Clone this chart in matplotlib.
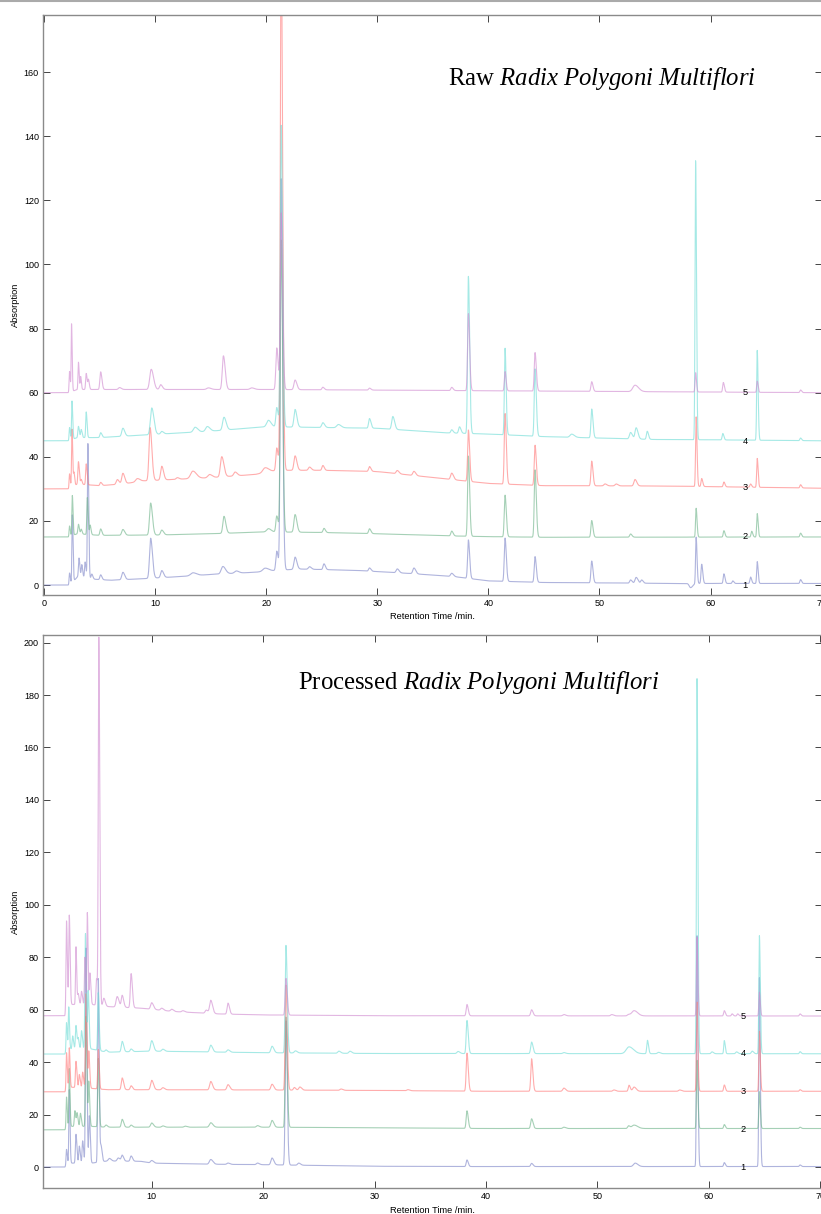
import numpy as np
import matplotlib
matplotlib.use("Agg")
import matplotlib.pyplot as plt
from matplotlib.lines import Line2D

plt.rcParams['font.family'] = ['Liberation Sans', 'DejaVu Sans']
plt.rcParams['mathtext.fontset'] = 'custom'
plt.rcParams['mathtext.rm'] = 'Liberation Serif'
plt.rcParams['mathtext.it'] = 'Liberation Serif:italic'

# ---------------- DATA ----------------
SERIES_LABELS = ['1', '2', '3', '4', '5']
COLORS = ['#7f86c8', '#6fb48a', '#ff7a7a', '#6fdcd6', '#d08ad0']

# Raw panel: baseline anchors (time, absorption)
RAW_BASE_1 = [(0, 0), (2.2, 0), (2.6, 1.0), (3, 2.5), (4.6, 1.8), (6, 1.5), (9, 2.0), (12, 2.6), (15, 3.3),
              (19, 4.0), (21, 4.6), (23, 5.0), (28, 4.6), (33, 3.6), (37, 2.6), (40, 1.3), (45, 0.8), (57, 0.5), (70, 0.5)]
RAW_BASE_2 = [(0, 15), (2.2, 15), (3, 16), (5, 15.5), (10, 15.6), (15, 16), (20, 16.6), (25, 16.4), (30, 16.0),
              (37, 15.3), (40, 15.1), (45, 14.9), (70, 15.0)]
RAW_BASE_3 = [(0, 30), (2.2, 30), (3, 31.5), (5, 31), (7, 31.5), (9, 32.5), (12, 33), (15, 33.5), (19, 34.5),
              (21, 35.8), (25, 35.8), (30, 35.4), (37, 32.8), (40, 31.7), (45, 31.0), (55, 30.9), (60, 30.7), (70, 30.2)]
RAW_BASE_4 = [(0, 45), (2.2, 45), (3, 46), (5, 46), (10, 47), (15, 48), (20, 49.4), (30, 48.9), (36, 47.5),
              (40, 47.1), (45, 46.3), (55, 45.4), (60, 45.3), (70, 45.0)]
RAW_BASE_5 = [(0, 60), (2.2, 60), (3, 61), (20, 61), (30, 60.8), (45, 60.5), (70, 60)]

# Raw panel peaks: (retention time, height, width)
RAW_PEAKS_1 = [(2.3, 3.5, 0.04), (2.55, 21, 0.04), (3.15, 6, 0.05), (3.4, 4, 0.05), (3.7, 5, 0.05), (3.95, 42, 0.045),
               (4.3, 1.5, 0.06), (5.1, 1.5, 0.07), (7.1, 2.3, 0.1), (9.6, 12.5, 0.1), (10.6, 2.2, 0.1), (13.4, 0.9, 0.2),
               (16.1, 2.3, 0.15), (17.3, 0.7, 0.15), (19.9, 1.0, 0.2), (20.95, 6, 0.08), (21.35, 122, 0.08),
               (22.6, 3.8, 0.1), (23.9, 0.8, 0.1), (25.2, 1.8, 0.08), (29.3, 1.0, 0.08), (31.8, 1.2, 0.1),
               (33.3, 1.8, 0.1), (36.7, 1.0, 0.1), (38.2, 12, 0.07), (41.5, 13.5, 0.07), (44.2, 8, 0.07),
               (49.3, 6.8, 0.07), (52.8, 1.0, 0.08), (53.3, 1.8, 0.1), (53.8, 1.0, 0.08), (58.2, -1.3, 0.12),
               (58.7, 14.5, 0.05), (59.2, 6, 0.06), (61.2, 3, 0.06), (62.0, 0.8, 0.06), (63.6, 2, 0.06),
               (64.2, 6.8, 0.05), (68.1, 1.2, 0.06)]
RAW_PEAKS_2 = [(2.3, 3.3, 0.04), (2.55, 12.5, 0.04), (3.1, 3, 0.05), (3.35, 1.5, 0.05), (3.9, 11.5, 0.045),
               (4.15, 3, 0.05), (5.1, 2, 0.07), (7.1, 1.8, 0.1), (9.6, 10, 0.1), (10.6, 1.5, 0.1), (16.2, 5.3, 0.1),
               (20.2, 1.0, 0.15), (20.95, 5, 0.08), (21.35, 91, 0.08), (22.6, 5.5, 0.1), (25.2, 1.3, 0.08),
               (29.3, 1.5, 0.08), (36.7, 1.5, 0.08), (38.2, 25, 0.07), (41.5, 13, 0.07), (44.2, 21, 0.07),
               (49.3, 5.2, 0.07), (52.8, 1.0, 0.08), (58.7, 9, 0.05), (61.2, 2, 0.06), (63.7, 1.8, 0.06),
               (64.2, 7.3, 0.05), (68.1, 1.2, 0.06)]
RAW_PEAKS_3 = [(2.3, 4.5, 0.04), (2.52, 18, 0.04), (2.7, 4, 0.04), (3.1, 7, 0.05), (3.35, 1.5, 0.05), (3.8, 6.5, 0.05),
               (5.1, 1, 0.07), (6.6, 1.5, 0.1), (7.1, 3.3, 0.1), (8.4, 1, 0.15), (9.55, 16.5, 0.1), (10.6, 4.3, 0.1),
               (12, 0.5, 0.1), (13.4, 2.3, 0.2), (14.9, 1, 0.15), (16.0, 6.3, 0.12), (17.2, 1.2, 0.12),
               (19.9, 1.5, 0.2), (20.95, 7, 0.08), (21.35, 165, 0.08), (22.6, 4.5, 0.1), (23.9, 1, 0.1),
               (25.1, 1.5, 0.08), (29.3, 1.5, 0.08), (31.8, 1, 0.1), (33.3, 1.3, 0.1), (36.7, 2, 0.1),
               (38.2, 16, 0.07), (41.5, 22, 0.07), (44.2, 12.5, 0.07), (49.3, 7.7, 0.07), (50.5, 0.6, 0.1),
               (51.5, 0.6, 0.1), (53.2, 2, 0.1), (58.7, 21.7, 0.05), (59.2, 2.5, 0.06), (61.2, 1.5, 0.06),
               (63.6, 1, 0.06), (64.2, 9, 0.05), (68.1, 1, 0.06)]
RAW_PEAKS_4 = [(2.3, 4, 0.04), (2.52, 12, 0.04), (3.1, 3.5, 0.05), (3.35, 2.5, 0.05), (3.8, 8, 0.045), (5.1, 1.5, 0.07),
               (7.1, 2.5, 0.1), (9.7, 8.3, 0.12), (10.6, 0.8, 0.1), (13.6, 1.5, 0.15), (14.7, 1.5, 0.15),
               (16.2, 4, 0.12), (20.2, 2, 0.15), (20.95, 6, 0.08), (21.35, 94, 0.08), (22.6, 5.5, 0.1),
               (25.1, 1.5, 0.1), (26.5, 1, 0.15), (29.3, 3, 0.08), (31.4, 4, 0.1), (36.7, 1, 0.08), (37.4, 2, 0.08),
               (38.2, 49, 0.07), (41.5, 27, 0.06), (44.2, 21, 0.07), (47.5, 1, 0.15), (49.3, 9, 0.07),
               (52.8, 2, 0.1), (53.3, 3.5, 0.1), (54.3, 2.5, 0.07), (58.65, 87, 0.05), (61.1, 2, 0.06),
               (64.2, 28, 0.05), (68.1, 0.8, 0.06)]
RAW_PEAKS_5 = [(2.3, 6.5, 0.04), (2.48, 21, 0.035), (3.1, 8.5, 0.04), (3.3, 4, 0.04), (3.8, 5, 0.05), (4.0, 3, 0.05),
               (5.1, 5.5, 0.07), (6.8, 0.6, 0.1), (9.65, 6.3, 0.13), (10.5, 1.5, 0.1), (14.8, 0.5, 0.15),
               (16.15, 10.5, 0.1), (18.7, 0.5, 0.15), (20.95, 13, 0.08), (21.35, 55, 0.08), (22.6, 3, 0.1),
               (25.1, 0.8, 0.08), (29.3, 0.6, 0.08), (36.7, 1, 0.08), (38.2, 24, 0.07), (41.5, 6, 0.06),
               (44.2, 12, 0.07), (49.3, 3, 0.07), (53.2, 2, 0.2), (58.65, 6, 0.05), (61.15, 3, 0.06),
               (64.2, 3.5, 0.05), (68.1, 0.8, 0.06)]

# Processed panel: baseline anchors
PROC_BASE_1 = [(0, 0), (2.2, 0), (2.5, 1.5), (4.6, 1.5), (6, 2.3), (9, 2.2), (10, 1.5), (15, 1.1), (20, 0.9),
               (30, 0.3), (37, 0.2), (70, 0.2)]
PROC_BASE_2 = [(0, 14.2), (2.2, 14.2), (2.6, 15.5), (4.6, 15.5), (6, 15.2), (20, 15.2), (30, 15), (40, 14.7), (70, 14.7)]
PROC_BASE_3 = [(0, 28.7), (2.2, 28.7), (2.5, 30.5), (4.6, 30), (6, 29.5), (20, 29.4), (30, 29.2), (40, 28.9), (70, 28.9)]
PROC_BASE_4 = [(0, 43.1), (2.2, 43.1), (2.5, 45), (4.6, 45), (6, 43.8), (10, 44.2), (20, 43.6), (30, 43.3), (70, 43.2)]
PROC_BASE_5 = [(0, 57.7), (2.2, 57.7), (2.5, 62), (4.6, 62), (6, 61.2), (9, 60.6), (12, 59.3), (16, 58.4), (20, 58),
               (30, 57.7), (70, 57.6)]

PROC_PEAKS_1 = [(2.35, 6, 0.04), (2.6, 28, 0.04), (3.2, 11, 0.05), (3.5, 6.5, 0.05), (3.8, 8.5, 0.05), (4.1, 82, 0.05),
                (4.4, 18, 0.05), (5.2, 70, 0.05), (5.45, 6, 0.06), (6.2, 1, 0.1), (7.0, 1.2, 0.1), (7.35, 2.2, 0.08),
                (8.15, 2, 0.08), (10.0, 1.0, 0.1), (15.3, 1.8, 0.12), (16.85, 0.5, 0.1), (19.5, 0.6, 0.1),
                (20.8, 2.6, 0.1), (22.05, 55, 0.07), (23.2, 0.8, 0.1), (38.3, 2.5, 0.07), (44.1, 1.2, 0.08),
                (53.4, 1.3, 0.15), (58.95, 88, 0.05), (61.4, 1.5, 0.06), (64.55, 72, 0.05), (68.2, 0.6, 0.06)]
PROC_PEAKS_2 = [(2.35, 12, 0.04), (2.6, 22, 0.04), (3.1, 6, 0.05), (3.3, 5, 0.05), (3.6, 5, 0.05), (4.1, 42, 0.05),
                (4.35, 17, 0.05), (5.2, 26, 0.05), (5.9, 0.8, 0.08), (7.35, 3, 0.08), (8.15, 0.8, 0.08),
                (10.0, 1.6, 0.1), (11, 0.5, 0.1), (13, 0.4, 0.1), (15.3, 1.7, 0.12), (19.5, 0.6, 0.1),
                (20.8, 2.6, 0.1), (22.05, 42, 0.07), (38.3, 6.7, 0.07), (44.1, 3.7, 0.08), (47, 0.5, 0.1),
                (52.8, 1, 0.08), (53.3, 1.3, 0.2), (58.95, 26, 0.05), (61.4, 1.5, 0.06), (64.55, 14, 0.05),
                (68.2, 0.5, 0.06)]
PROC_PEAKS_3 = [(2.35, 14, 0.04), (2.6, 15, 0.04), (3.2, 10, 0.05), (3.5, 5, 0.05), (3.8, 6, 0.05), (4.1, 36, 0.05),
                (4.35, 14, 0.05), (5.2, 15, 0.05), (7.35, 4.5, 0.08), (8.15, 1.5, 0.08), (10.0, 3.6, 0.1),
                (11, 0.8, 0.1), (15.3, 3.2, 0.1), (16.85, 2, 0.1), (20.8, 2.2, 0.1), (22.05, 40, 0.07),
                (22.8, 1, 0.08), (23.3, 1.2, 0.1), (27, 0.5, 0.1), (33, 0.4, 0.1), (38.3, 14.5, 0.07),
                (44.1, 12.4, 0.07), (47.0, 1.2, 0.1), (51.5, 0.5, 0.1), (52.85, 2.3, 0.07), (53.3, 1.6, 0.12),
                (57.4, 0.5, 0.1), (58.95, 34, 0.05), (61.4, 2.4, 0.06), (64.55, 22.8, 0.05), (68.2, 0.6, 0.06)]
PROC_PEAKS_4 = [(2.35, 11, 0.04), (2.55, 16, 0.04), (2.9, 5, 0.05), (3.2, 9, 0.05), (3.4, 4, 0.05), (3.7, 7, 0.05),
                (4.05, 44, 0.05), (4.3, 22, 0.05), (5.2, 22, 0.05), (5.9, 0.8, 0.08), (7.35, 4, 0.08),
                (8.15, 1, 0.08), (10.0, 4, 0.1), (11, 0.8, 0.1), (15.3, 2.6, 0.1), (16.85, 0.9, 0.1),
                (20.8, 2.5, 0.1), (22.05, 41, 0.07), (22.9, 0.8, 0.1), (26.8, 0.8, 0.1), (27.8, 0.8, 0.1),
                (37.5, 0.8, 0.1), (38.3, 12.6, 0.07), (44.1, 4.4, 0.08), (47, 0.4, 0.1), (52.85, 2.6, 0.25),
                (54.5, 5.1, 0.06), (55.5, 0.5, 0.1), (58.95, 143, 0.05), (60.3, 0.7, 0.08), (61.4, 5, 0.05),
                (62.5, 0.7, 0.08), (63.9, 1, 0.08), (64.55, 45, 0.05), (68.2, 0.8, 0.06)]
PROC_PEAKS_5 = [(2.35, 34, 0.045), (2.6, 34, 0.045), (3.2, 22, 0.04), (3.4, 4, 0.05), (3.7, 5, 0.05), (4.0, 18, 0.04),
                (4.22, 35, 0.04), (4.45, 12, 0.05), (5.05, 10, 0.05), (5.25, 140, 0.05), (5.7, 3, 0.08),
                (6.9, 4, 0.1), (7.35, 4.5, 0.08), (8.15, 13, 0.07), (10.0, 2.5, 0.1), (10.9, 0.8, 0.1),
                (11.8, 0.8, 0.1), (12.8, 0.5, 0.1), (14.9, 1.2, 0.1), (15.3, 5, 0.1), (16.85, 4.2, 0.08),
                (22.05, 14, 0.07), (38.3, 4.3, 0.07), (44.1, 2.3, 0.08), (47, 0.5, 0.1), (51.3, 0.5, 0.1),
                (52.8, 0.5, 0.1), (53.3, 2, 0.2), (58.95, 30, 0.05), (61.4, 2, 0.06), (62.1, 0.8, 0.06),
                (62.6, 0.8, 0.06), (64.55, 9, 0.05), (68.2, 0.8, 0.06)]

RAW_BASES = [RAW_BASE_1, RAW_BASE_2, RAW_BASE_3, RAW_BASE_4, RAW_BASE_5]
RAW_PEAKS = [RAW_PEAKS_1, RAW_PEAKS_2, RAW_PEAKS_3, RAW_PEAKS_4, RAW_PEAKS_5]
PROC_BASES = [PROC_BASE_1, PROC_BASE_2, PROC_BASE_3, PROC_BASE_4, PROC_BASE_5]
PROC_PEAKS = [PROC_PEAKS_1, PROC_PEAKS_2, PROC_PEAKS_3, PROC_PEAKS_4, PROC_PEAKS_5]
RAW_LABEL_Y = [0, 15.1, 30.4, 44.7, 60]
PROC_LABEL_Y = [0, 14.5, 28.7, 43.2, 57.4]

T = np.arange(0, 70.3, 0.005)


def trace(base, peaks):
    bt, bv = zip(*base)
    y = np.interp(T, bt, bv)
    for rt, h, w in peaks:
        sig = np.where(T < rt, w, w * 1.6)
        y = y + h * np.exp(-0.5 * ((T - rt) / sig) ** 2)
    return y


W, H = 821, 1214
fig = plt.figure(figsize=(W / 100, H / 100), dpi=100)
fig.add_artist(Line2D([0, 1], [1 - 1 / H, 1 - 1 / H], color='#aaaaaa', lw=1.5))


def make_ax(top, bottom, xlim, ylim, yticks, xticks):
    ax = fig.add_axes([43 / W, 1 - bottom / H, 779 / W, (bottom - top) / H])
    ax.set_xlim(*xlim)
    ax.set_ylim(*ylim)
    ax.set_yticks(yticks)
    ax.set_xticks(xticks)
    for s in ax.spines.values():
        s.set_color('#8a8a8a')
        s.set_linewidth(1.0)
    ax.tick_params(direction='in', length=5, width=0.7, color='#444444', labelsize=6.5,
                   top=True, right=True, pad=3)
    ax.set_ylabel('Absorption', fontsize=6.7, labelpad=3)
    ax.set_xlabel('Retention Time /min.', fontsize=6.7, labelpad=3)
    return ax


ax1 = make_ax(15, 595, (-0.09, 70.03), (-3.1, 177.8), np.arange(0, 161, 20), np.arange(0, 71, 10))
for i in range(5):
    ax1.plot(T, trace(RAW_BASES[i], RAW_PEAKS[i]), color=COLORS[i], lw=0.8, alpha=0.62)
    ax1.text(63.1, RAW_LABEL_Y[i], SERIES_LABELS[i], fontsize=6.7, ha='center', va='center')
ax1.text(0.718, 0.891, r'Raw $\it{Radix\ Polygoni\ Multiflori}$', transform=ax1.transAxes,
         fontsize=17.8, ha='center', va='center', family='Liberation Serif')

ax2 = make_ax(634.7, 1188.3, (0.24, 70.17), (-8.1, 203), np.arange(0, 201, 20), np.arange(10, 71, 10))
for i in range(5):
    ax2.plot(T, trace(PROC_BASES[i], PROC_PEAKS[i]), color=COLORS[i], lw=0.8, alpha=0.62)
    ax2.text(63.1, PROC_LABEL_Y[i], SERIES_LABELS[i], fontsize=6.7, ha='center', va='center')
ax2.text(0.560, 0.913, r'Processed $\it{Radix\ Polygoni\ Multiflori}$', transform=ax2.transAxes,
         fontsize=17.8, ha='center', va='center', family='Liberation Serif')

fig.savefig('out.png', dpi=100)
